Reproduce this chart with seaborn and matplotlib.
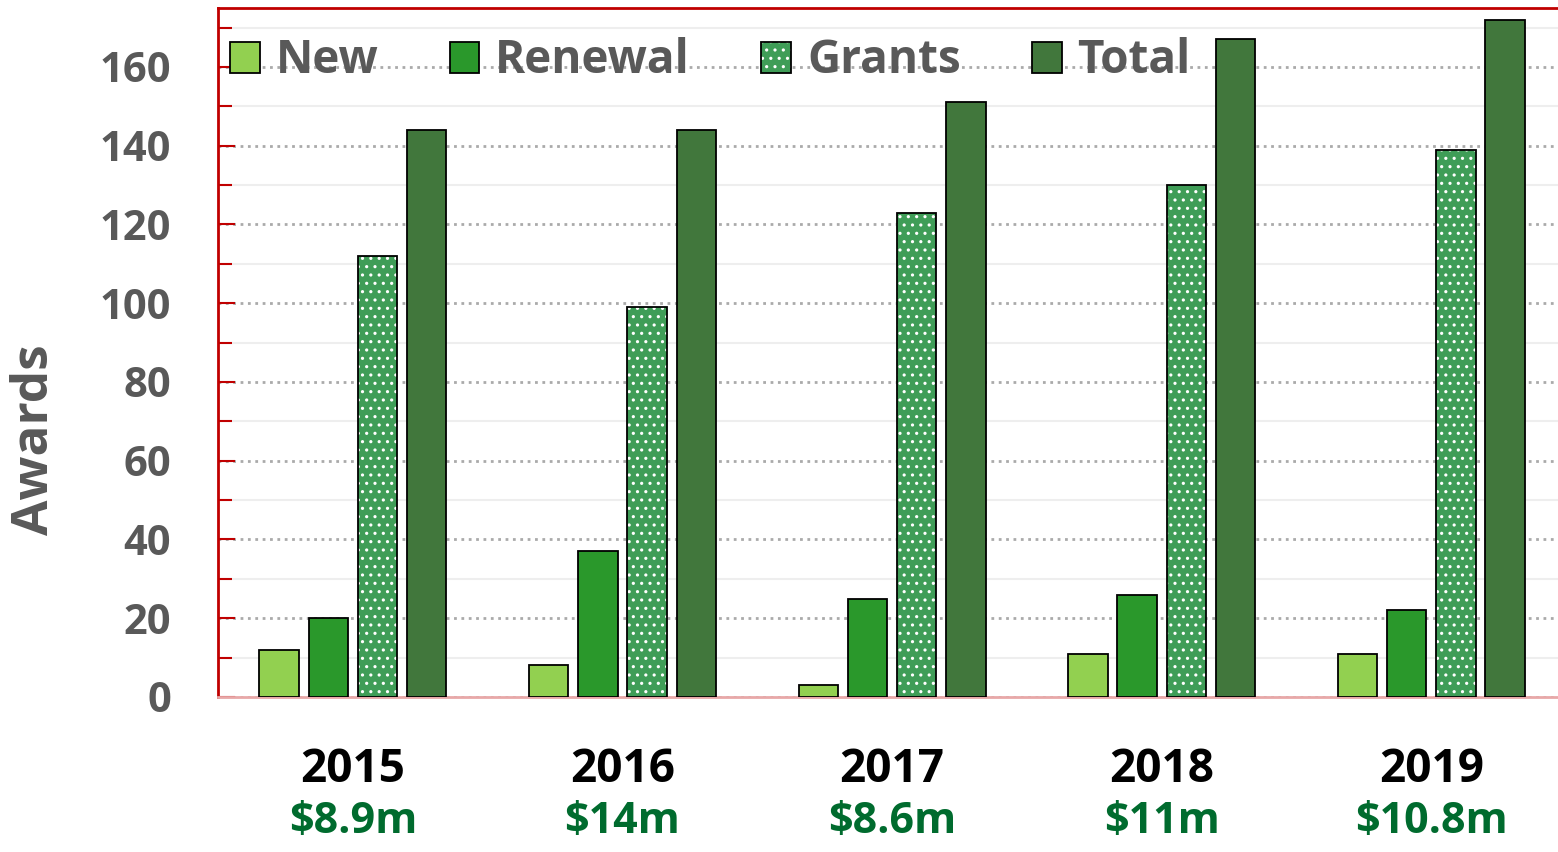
import pandas as pd
import matplotlib.pyplot as plt
import seaborn as sns
from matplotlib.patches import Rectangle, Patch
from matplotlib.ticker import MultipleLocator

# ==============================
# Dados
# ==============================
years = ["2015", "2016", "2017", "2018", "2019"]
funding = ["$8.9m", "$14m", "$8.6m", "$11m", "$10.8m"]
series = ["New", "Renewal", "Grants", "Total"]
new_vals = [12, 8, 3, 11, 11]
renewal_vals = [20, 37, 25, 26, 22]
grants_vals = [112, 99, 123, 130, 139]
total_vals = [144, 144, 151, 167, 172]

colors = {"New": "#92D050", "Renewal": "#2A982B", "Grants": "#3F9D57", "Total": "#41773C"}

rows = []
for name, vals in zip(series, [new_vals, renewal_vals, grants_vals, total_vals]):
    for y, v in zip(years, vals):
        rows.append({"Year": y, "Series": name, "Awards": v})
df = pd.DataFrame(rows)

# ==============================
# Figura
# ==============================
sns.set_theme(style="white")
plt.rcParams["font.family"] = ["Open Sans", "DejaVu Sans"]
plt.rcParams["hatch.linewidth"] = 1.1

fig = plt.figure(figsize=(15.58, 8.52), dpi=100)
ax = fig.add_axes([0.14, 0.182, 0.86, 0.8087])

sns.barplot(data=df, x="Year", y="Awards", hue="Series", hue_order=series,
            palette=colors, width=0.73, gap=0.2, edgecolor="black",
            linewidth=1.3, saturation=1, ax=ax, zorder=3)

# pontilhado branco nas barras de Grants (hachura usa a cor da borda)
for bar in ax.containers[2]:
    bar.set_edgecolor("white")
    bar.set_linewidth(0)
    bar.set_hatch("..")
    ax.add_patch(Rectangle(bar.get_xy(), bar.get_width(), bar.get_height(),
                           fill=False, edgecolor="black", linewidth=1.3, zorder=4))

ax.set_ylim(0, 175)
ax.set_xlim(-0.5, 4.47)
ax.yaxis.set_major_locator(MultipleLocator(20))
ax.yaxis.set_minor_locator(MultipleLocator(10))
ax.grid(which="major", axis="y", color="#AAAAAA", linestyle=":", linewidth=2, zorder=0)
ax.grid(which="minor", axis="y", color="#EEEEEE", linestyle="-", linewidth=1.5, zorder=0)
ax.set_axisbelow(True)

ax.tick_params(axis="y", which="both", direction="in", color="#C00000", width=1.5,
               left=True, labelsize=30, labelcolor="#595959", pad=34)
ax.tick_params(axis="y", which="major", length=12)
ax.tick_params(axis="y", which="minor", length=10)
for lbl in ax.get_yticklabels():
    lbl.set_fontweight("bold")

ax.tick_params(axis="x", length=0, labelsize=33, labelcolor="black", pad=35)
ax.set_xticks(range(len(years)))
ax.set_xticklabels(years, fontweight="bold")
ax.set_xlabel("")
ax.set_ylabel("Awards", fontsize=37, fontweight="bold", color="#595959")
ax.yaxis.set_label_coords(-0.118, 0.373)

for i, f in enumerate(funding):
    ax.text(i, -0.181, f, transform=ax.get_xaxis_transform(), ha="center", va="center",
            fontsize=31, fontweight="bold", color="#006B2E")

for side in ["left", "top"]:
    ax.spines[side].set_color("#C00000")
    ax.spines[side].set_linewidth(2)
ax.spines["bottom"].set_color("#E8A8A8")
ax.spines["bottom"].set_linewidth(2)
ax.spines["right"].set_visible(False)

handles, labels = ax.get_legend_handles_labels()
handles[2] = (Patch(facecolor=colors["Grants"], edgecolor="white", hatch="..", linewidth=0),
              Patch(fill=False, edgecolor="black", linewidth=1.3))
leg = ax.legend(handles, labels, ncol=4, loc="upper left", bbox_to_anchor=(-0.022, 1.017),
                frameon=False, fontsize=33, handlelength=0.65, handleheight=0.65,
                handletextpad=0.35, columnspacing=1.55)
for t in leg.get_texts():
    t.set_color("#595959")
    t.set_fontweight("bold")

fig.savefig("out.png", dpi=100)
